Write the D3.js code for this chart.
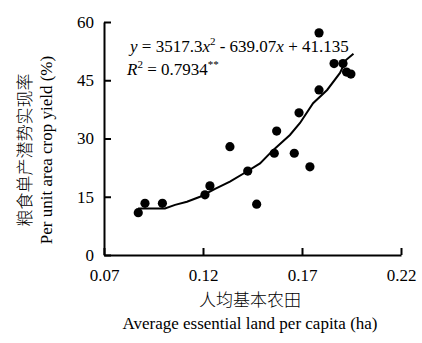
<!DOCTYPE html>
<html>
<head>
<meta charset="utf-8">
<script src="https://cdn.jsdelivr.net/npm/d3@7"></script>
<style>
    body { margin: 0; background: #fff; }
    text { font-family: "Liberation Serif", "Times New Roman", "Noto Sans CJK SC", serif; fill: #000; }
</style>
</head>
<body>
<div id="my_dataviz"></div>
<script>
// observed points: land per capita (ha) vs realisation rate (%)
var landX = [0.0873, 0.0907, 0.0995, 0.1210, 0.1235, 0.1336, 0.1426, 0.1471, 0.1560, 0.1572,
             0.1661, 0.1685, 0.1740, 0.1786, 0.1786, 0.1862, 0.1907, 0.1925, 0.1947];
var yieldY = [10.9, 13.3, 13.3, 15.5, 17.8, 27.9, 21.6, 13.1, 26.2, 31.9,
              26.2, 36.6, 22.7, 42.5, 57.2, 49.3, 49.3, 47.1, 46.6];

// fitted curve as drawn in the figure
var curveX = [0.0872, 0.1008, 0.1059, 0.1119, 0.1185, 0.1261, 0.1336, 0.1422, 0.1488,
              0.1554, 0.1639, 0.1690, 0.1756, 0.1827, 0.1892, 0.1922, 0.1960];
var curveY = [12.0, 12.0, 12.9, 13.7, 15.0, 17.0, 18.9, 21.5, 23.6,
              27.0, 30.9, 34.0, 39.1, 42.5, 46.9, 50.2, 51.8];

var xTicks = [0.07, 0.12, 0.17, 0.22];
var yTicks = [0, 15, 30, 45, 60];

var margin = {top: 22, right: 21, bottom: 88, left: 104},
    width = 422 - margin.left - margin.right,
    height = 343 - margin.top - margin.bottom;

var svg = d3.select("#my_dataviz")
    .append("svg")
    .attr("width", 422)
    .attr("height", 343);

var g = svg.append("g")
    .attr("transform", "translate(" + margin.left + "," + margin.top + ")");

var x = d3.scaleLinear().domain([0.07, 0.22]).range([0, width]);
var y = d3.scaleLinear().domain([0, 60]).range([height, 0]);

// axes, ticks pointing inward
var xAxis = g.append("g")
    .attr("transform", "translate(0," + height + ")")
    .call(d3.axisBottom(x).tickValues(xTicks).tickSizeInner(-7).tickSizeOuter(0)
        .tickPadding(14).tickFormat(d3.format(".2f")));
var yAxis = g.append("g")
    .call(d3.axisLeft(y).tickValues(yTicks).tickSizeInner(-7).tickSizeOuter(0)
        .tickPadding(10));

[xAxis, yAxis].forEach(function (a) {
    a.attr("font-family", null).attr("font-size", null);
    a.select(".domain").attr("stroke", "#000").attr("stroke-width", 2);
    a.selectAll(".tick line").attr("stroke", "#000").attr("stroke-width", 2);
    a.selectAll(".tick text")
        .attr("font-size", "17px")
        .attr("fill", "#000");
});

// fitted line
var pts = curveX.map(function (d, i) { return [d, curveY[i]]; });
g.append("path")
    .datum(pts)
    .attr("fill", "none")
    .attr("stroke", "#000")
    .attr("stroke-width", 2)
    .attr("d", d3.line()
        .x(function (d) { return x(d[0]); })
        .y(function (d) { return y(d[1]); }));

// data points
g.selectAll("circle")
    .data(landX)
    .enter()
    .append("circle")
    .attr("cx", function (d) { return x(d); })
    .attr("cy", function (d, i) { return y(yieldY[i]); })
    .attr("r", 4.6)
    .attr("fill", "#000");

// regression equation
var eq = svg.append("text")
    .attr("x", 130)
    .attr("y", 52)
    .attr("font-size", "17px");
eq.append("tspan").attr("font-style", "italic").text("y");
eq.append("tspan").text(" = 3517.3");
eq.append("tspan").attr("font-style", "italic").text("x");
eq.append("tspan").attr("dy", -7).attr("font-size", "11px").text("2");
eq.append("tspan").attr("dy", 7).text(" - 639.07");
eq.append("tspan").attr("font-style", "italic").text("x");
eq.append("tspan").text(" + 41.135");

var r2 = svg.append("text")
    .attr("x", 127)
    .attr("y", 75)
    .attr("font-size", "17px");
r2.append("tspan").attr("font-style", "italic").text("R");
r2.append("tspan").attr("dy", -7).attr("font-size", "11px").text("2");
r2.append("tspan").attr("dy", 7).text(" = 0.7934");
r2.append("tspan").attr("dy", -7).attr("font-size", "11px").text("**");

// axis titles
svg.append("text")
    .attr("x", 250)
    .attr("y", 306)
    .attr("text-anchor", "middle")
    .attr("font-size", "17px")
    .attr("font-weight", 300)
    .text("人均基本农田");
svg.append("text")
    .attr("x", 250)
    .attr("y", 329)
    .attr("text-anchor", "middle")
    .attr("font-size", "17px")
    .text("Average essential land per capita (ha)");

svg.append("text")
    .attr("transform", "translate(31,150) rotate(-90)")
    .attr("text-anchor", "middle")
    .attr("font-size", "17px")
    .attr("font-weight", 300)
    .text("粮食单产潜势实现率");
svg.append("text")
    .attr("transform", "translate(52,150) rotate(-90)")
    .attr("text-anchor", "middle")
    .attr("font-size", "17px")
    .text("Per unit area crop yield (%)");
</script>
</body>
</html>
